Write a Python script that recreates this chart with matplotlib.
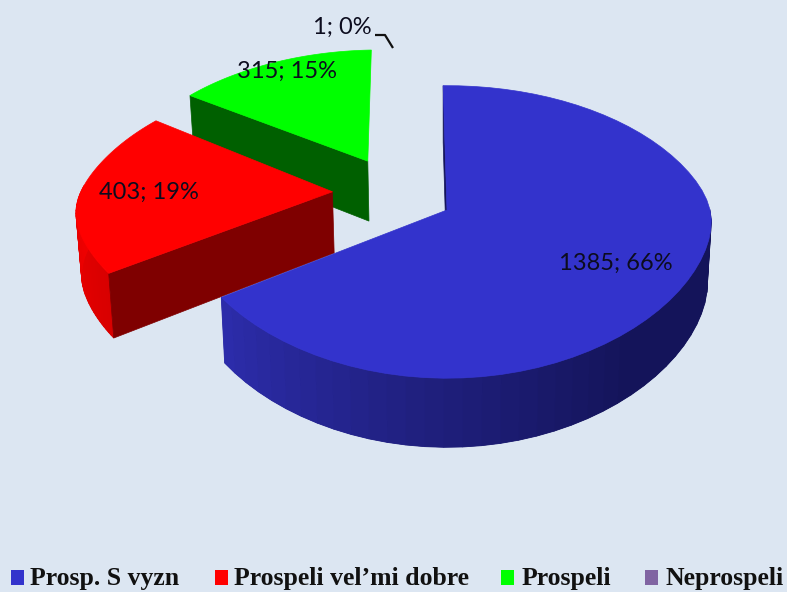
import numpy as np
import matplotlib
matplotlib.use('Agg')
import matplotlib.pyplot as plt
from matplotlib.colors import LinearSegmentedColormap
from matplotlib.patches import Polygon, Rectangle

categories = ['Prosp. S vyzn', 'Prospeli vel\u2019mi dobre', 'Prospeli', 'Neprospeli']
values = [1385, 403, 315, 1]
colors = ['#3333cc', '#ff0000', '#00ff00', '#8064a2']
face_colors = ['#14145a', '#7f0000', '#006000', '#4c3c61']
side_stops = [['#14145a', '#14145a', '#20207f', '#2c2caa'],
              ['#d80000', '#f00000'],
              ['#00c000', '#00c000'],
              ['#604a7b', '#604a7b']]
explode = [(0.0, 0.0), (-0.444, -0.13), (-0.32, -0.36), (0.0, 0.0)]
radius = [1.0, 0.975, 0.985, 1.0]
turn = [0.0, 0.0, -1.0, 0.0]

label_xy = [(616, 263), (149, 192), (287, 71), (342, 27)]
legend_box_x = [11, 215, 501, 645]
legend_text_x = [30, 234, 522, 665]

bg = '#dce6f2'
cx, cy = 447, 210
R, B, k = 263, 143, 0.15
start = -1.0


def project(X, Y, lower=False):
    s = 1 / (1 - k * Y)
    # sideways shrink is stronger at the back than at the front
    k_x = 0.06 + 0.12 * (1 - np.tanh(4 * Y)) / 2
    sx = R * X / (1 - k_x * Y)
    sy = cy + B * Y * s
    if lower:
        sx = sx * 0.985
        sy = sy + 62 + 40 * (s - 1)
    return np.column_stack([cx + sx, sy])


fig = plt.figure(figsize=(7.87, 5.92), dpi=100, facecolor=bg)
ax = fig.add_axes([0, 0, 1, 1])
ax.set_xlim(0, 787)
ax.set_ylim(592, 0)
ax.axis('off')

total = sum(values)
edges = start + np.cumsum([0] + values) / total * 360


def draw_slice(i):
    th = np.radians(np.linspace(edges[i], edges[i + 1], 61) + turn[i])
    ox, oy = explode[i]
    X = ox + radius[i] * np.sin(th)
    Y = oy - radius[i] * np.cos(th)
    apex = project(np.array([ox]), np.array([oy]))
    apex_low = project(np.array([ox]), np.array([oy]), True)
    top = project(X, Y)
    low = project(X, Y, True)

    # outer wall as strips so the shade can change along the arc, front part only
    cmap = LinearSegmentedColormap.from_list('side', side_stops[i])
    front = np.nonzero(np.cos(th) < 0.05)[0]
    if len(front) > 1:
        a, b = front[0], front[-1]
        ax.add_patch(Polygon(np.vstack([top[a:b + 1], low[a:b + 1][::-1]]), fc=cmap(0.5), ec='none'))
        for j in range(a, b):
            quad = np.vstack([top[j:j + 2], low[j:j + 2][::-1]])
            c = cmap((j - a) / max(b - a - 1, 1))
            ax.add_patch(Polygon(quad, fc=c, ec=c, lw=0.6))

    # cut face, then the top covers whatever should stay hidden
    ax.add_patch(Polygon(np.vstack([apex, top[:1], low[:1], apex_low]), fc=face_colors[i], ec=face_colors[i], lw=0.5))
    ax.add_patch(Polygon(np.vstack([apex, top]), fc=colors[i], ec=colors[i], lw=0.5))


draw_slice(2)
draw_slice(1)
draw_slice(0)

# leader line of the smallest slice
ax.plot([375, 385, 393], [35, 35, 48], color='#111111', lw=1.6, solid_capstyle='butt')

for v, (x, y) in zip(values, label_xy):
    pct = round(v / total * 100)
    ax.text(x, y, f'{v}; {pct}%', ha='center', va='center', family='Lato', fontsize=17, color='#0c0c1e')

for name, c, bx, tx in zip(categories, colors, legend_box_x, legend_text_x):
    ax.add_patch(Rectangle((bx, 570), 13, 15, fc=c, ec='none'))
    ax.text(tx, 578, name, ha='left', va='center', family='Liberation Serif', weight='bold', fontsize=18.5, color='#111111')

plt.savefig('out.png', dpi=100, facecolor=bg)
